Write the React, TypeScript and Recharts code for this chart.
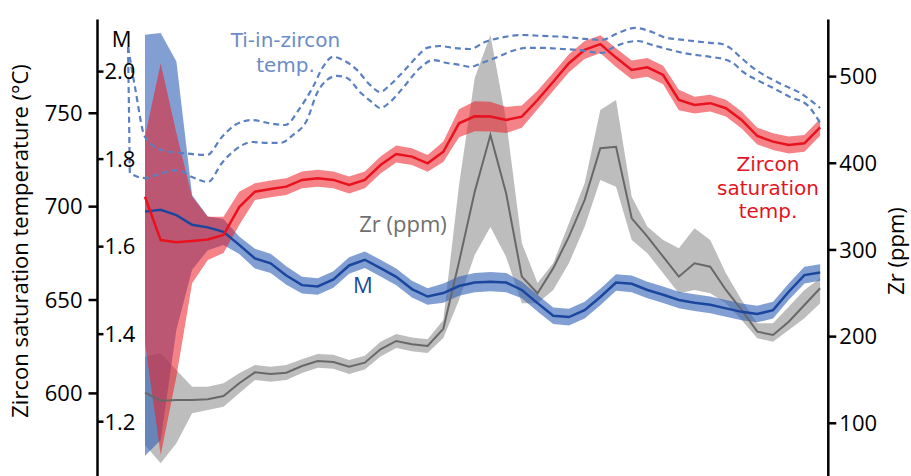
import React from 'react';
import { ComposedChart, Area, Line, XAxis, YAxis } from 'recharts';

const FONT = "'Open Sans', sans-serif";
const LABEL_FONT = "'DejaVu Sans', sans-serif";

// sample position along the profile
const step = [
  0, 1, 2, 3, 4, 5, 6, 7, 8, 9, 10, 11, 12, 13, 14, 15, 16, 17, 18, 19, 20, 21,
  22, 23, 24, 25, 26, 27, 28, 29, 30, 31, 32, 33, 34, 35, 36, 37, 38, 39, 40, 41, 42, 43,
];

// zircon saturation temperature (°C)
const zrcT = [
  705.3, 682.1, 680.9, 681.6, 682.4, 684.8, 699.8, 708.0, 709.5, 710.7, 714.3, 715.2, 714.3, 711.6,
  714.3, 722.3, 728.2, 726.8, 723.2, 729.4, 744.6, 748.4, 748.2, 746.4, 748.2, 757.1, 766.9, 776.8,
  783.9, 787.0, 779.8, 773.2, 774.6, 770.5, 757.1, 754.4, 755.4, 752.7, 746.4, 737.8, 734.8, 733.0,
  733.9, 742.5,
];
const zrcLo = [
  627, 567, 609, 659, 671.4, 675.2, 690.2, 703.5, 705.0, 706.2, 709.8, 710.7, 709.8, 707.1, 709.8,
  717.8, 723.7, 722.3, 718.7, 723.9, 737.1, 740.4, 740.2, 739.4, 742.2, 752.1, 762.1, 772.0, 779.1,
  782.2, 774.8, 768.2, 769.6, 765.5, 751.6, 749.9, 750.9, 748.2, 741.9, 733.3, 730.3, 728.5, 729.4,
  738.0,
];
const zrcHi = [
  737.5, 776.8, 739.4, 705.3, 694.6, 694.6, 708, 712.5, 714.0, 715.2, 718.8, 719.7, 718.8, 716.1,
  718.8, 726.8, 732.7, 731.3, 727.7, 734.9, 752.1, 756.4, 756.2, 753.4, 754.2, 762.1, 771.7, 781.6,
  788.7, 791.8, 784.8, 778.2, 779.6, 775.5, 762.6, 758.9, 759.9, 757.2, 750.9, 742.3, 739.3, 737.5,
  738.4, 747.0,
];

// M
const mVal = [
  1.68, 1.684, 1.672, 1.65, 1.644, 1.634, 1.604, 1.573, 1.562, 1.534, 1.512, 1.509, 1.525, 1.557,
  1.57, 1.551, 1.531, 1.503, 1.486, 1.494, 1.51, 1.518, 1.52, 1.518, 1.501, 1.471, 1.442, 1.439,
  1.455, 1.485, 1.518, 1.515, 1.501, 1.49, 1.478, 1.472, 1.467, 1.459, 1.451, 1.446, 1.455, 1.497,
  1.535, 1.541,
];
const mLo = [
  1.122, 1.158, 1.41, 1.547, 1.592, 1.604, 1.583, 1.55, 1.54, 1.513, 1.493, 1.49, 1.506, 1.538,
  1.551, 1.532, 1.512, 1.484, 1.467, 1.472, 1.488, 1.496, 1.498, 1.496, 1.482, 1.452, 1.423, 1.42,
  1.436, 1.466, 1.499, 1.496, 1.482, 1.471, 1.459, 1.453, 1.448, 1.44, 1.432, 1.427, 1.436, 1.478,
  1.516, 1.522,
];
const mHi = [
  2.084, 2.088, 2.023, 1.718, 1.669, 1.663, 1.623, 1.595, 1.584, 1.555, 1.531, 1.528, 1.544, 1.576,
  1.589, 1.57, 1.55, 1.522, 1.505, 1.516, 1.532, 1.54, 1.542, 1.54, 1.52, 1.49, 1.461, 1.458, 1.474,
  1.504, 1.537, 1.534, 1.52, 1.509, 1.497, 1.491, 1.486, 1.478, 1.47, 1.465, 1.474, 1.516, 1.554,
  1.56,
];

// Zr (ppm)
const zr = [
  135.3, 126.1, 126.9, 126.9, 127.7, 131.5, 146.2, 158.8, 156.9, 158.4, 166.1, 171.9, 170.7, 165.3,
  169.9, 185.4, 195.0, 191.2, 189.2, 209.0, 286.1, 367.2, 432.6, 365.4, 269.2, 250.0, 278.8, 315.3,
  357.6, 417.3, 419.1, 336.5, 315.3, 292.2, 269.2, 284.6, 280.7, 253.8, 230.7, 205.7, 201.9, 217.2,
  236.5, 255.8,
];
const zrLo = [
  75.0, 53.8, 76.9, 111.5, 115.3, 119.2, 134.6, 150.0, 148.0, 150.0, 158, 164, 163, 157, 162, 177,
  187, 183, 181, 198.3, 242.3, 294.2, 326.5, 292, 238.5, 238.5, 253.8, 284.6, 326.8, 380.7, 373,
  311.5, 296.2, 273.1, 250, 253.8, 250, 238.5, 219.2, 198.1, 194.2, 207.7, 221.2, 238.5,
];
const zrHi = [
  176.8, 180.8, 161.5, 142.2, 142.2, 146.2, 157.7, 167.3, 165.3, 167.3, 174, 180, 179, 173, 178, 194,
  203, 199, 197, 219.1, 374.9, 498.4, 548, 450, 308, 261.9, 284.6, 330.8, 377, 461.5, 473, 361.5,
  326.8, 311.5, 301.9, 325.0, 311.5, 273.1, 242.3, 215.4, 215.4, 234.5, 253.8, 267.3,
];

// Ti-in-zircon temperature envelope (°C), dashed curves
const tiUpperStep = [
  -1.08, -0.64, 0, 1.08, 2.36, 3.95, 4.9, 5.73, 6.82, 7.83, 8.92, 9.87, 10.7, 11.34, 11.97, 12.61,
  13.5, 14.33, 14.97, 15.61, 16.43, 17.32, 17.96, 18.79, 19.62, 20.7, 21.66, 22.93, 24.0, 25.29,
  26.75, 28.03, 29.11, 30.13, 31.21, 32.29, 33.0, 34.27, 35.99, 36.75, 37.26, 37.9, 38.73, 39.62,
  40.64, 41.72, 43.0,
];
const tiUpperT = [
  785.5, 764.1, 737.3, 730.3, 728.7, 727.7, 737.3, 743.7, 746.4, 744.8, 743.7, 752.8, 764.1, 774.8,
  780.2, 778.5, 773.2, 765.2, 761.4, 765.2, 772.1, 780.2, 785.0, 786.0, 785.0, 784.4, 788.2, 790.9,
  791.9, 791.4, 790.9, 789.8, 789.3, 793.0, 795.7, 793.5, 790.9, 789.3, 787.7, 787.1, 785.0, 780.2,
  774.3, 769.5, 765.2, 760.9, 752.8,
];
const tiLowerStep = [
  -1.08, -1.02, -0.96, 0, 1.08, 2.1, 2.99, 4.01, 4.9, 5.73, 6.82, 7.83, 8.6, 9.43, 10.32, 10.96,
  11.59, 12.23, 12.87, 13.69, 14.52, 14.97, 15.61, 16.43, 17.52, 18.34, 19.24, 20.06, 20.7, 21.46,
  22.48, 23.57, 24.39, 25.48, 26.56, 27.58, 28.47, 29.11, 29.75, 30.57, 31.4, 32.29, 33.0, 34.27,
  35.99, 36.82, 37.45, 38.09, 38.98, 40.0, 41.08, 42.17, 43.0,
];
const tiLowerT = [
  785.5, 751.8, 718.0, 715.3, 718.0, 719.6, 715.9, 713.2, 723.4, 730.3, 734.6, 734.1, 734.1, 738.4,
  746.4, 760.9, 767.8, 770.0, 768.9, 761.4, 755.5, 752.8, 756.0, 763.6, 774.3, 778.5, 776.9, 775.9,
  774.8, 776.9, 780.2, 783.9, 785.0, 785.0, 784.4, 783.9, 782.8, 782.3, 785.0, 787.7, 788.7, 786.6,
  785.0, 782.3, 780.2, 779.1, 776.9, 772.1, 767.8, 763.6, 758.7, 754.5, 744.8,
];

// axis ticks
const xTicks = [2.6, 12.8, 23.05, 33.3];
const tTicks = [600, 650, 700, 750];
const mTicks = [1.2, 1.4, 1.6, 1.8, 2.0];
const zrTicks = [100, 200, 300, 400, 500];

const data = step.map((s, i) => ({
  s,
  zrc: zrcT[i],
  zrcBand: [zrcLo[i], zrcHi[i]],
  m: mVal[i],
  mBand: [mLo[i], mHi[i]],
  zr: zr[i],
  zrBand: [zrLo[i], zrHi[i]],
}));
const tiUpper = tiUpperStep.map((s, i) => ({ s, t: tiUpperT[i] }));
const tiLower = tiLowerStep.map((s, i) => ({ s, t: tiLowerT[i] }));

const axisLine = { stroke: '#000', strokeWidth: 2.5 };
const tickText = { fill: '#000', fontSize: 22, fontFamily: FONT };

// multi-line annotation, centred on x, with a fixed line pitch
const blockLabel = (x: number, top: number, lineHeight: number, color: string): React.CSSProperties => ({
  position: 'absolute',
  left: x - 100,
  top,
  width: 200,
  textAlign: 'center',
  fontFamily: LABEL_FONT,
  fontSize: 20,
  lineHeight: `${lineHeight}px`,
  color,
  pointerEvents: 'none',
});

export default function App() {
  return (
    <div
      style={{
        position: 'fixed',
        left: 0,
        top: 0,
        width: 911,
        height: 476,
        overflow: 'hidden',
        background: '#fff',
      }}
    >
      <ComposedChart width={911} height={490} data={data} margin={{ top: 19.5, right: 0, bottom: 9, left: 0 }}>
        <XAxis
          dataKey="s"
          type="number"
          domain={[-3.025, 43.52]}
          allowDataOverflow
          ticks={xTicks}
          interval={0}
          mirror
          height={0}
          tick={false}
          tickSize={10}
          axisLine={axisLine}
          tickLine={{ stroke: '#000', strokeWidth: 2 }}
        />
        <XAxis
          xAxisId="top"
          orientation="top"
          type="number"
          domain={[-3.025, 43.52]}
          allowDataOverflow
          height={0}
          tick={false}
          tickLine={false}
          axisLine={{ stroke: '#000', strokeWidth: 2.5 }}
        />
        <YAxis
          yAxisId="t"
          orientation="left"
          width={97.5}
          type="number"
          domain={[553.1, 800.2]}
          allowDataOverflow
          ticks={tTicks}
          interval={0}
          tickSize={9}
          tickMargin={6}
          tick={tickText}
          axisLine={axisLine}
          tickLine={axisLine}
        />
        <YAxis
          yAxisId="m"
          orientation="left"
          mirror
          width={45}
          type="number"
          domain={[1.0645, 2.119]}
          allowDataOverflow
          ticks={mTicks}
          interval={0}
          tickSize={6}
          tickMargin={1}
          tick={tickText}
          tickFormatter={(v: number) => v.toFixed(1)}
          axisLine={false}
          tickLine={axisLine}
        />
        <YAxis
          yAxisId="zr"
          orientation="right"
          width={82.7}
          type="number"
          domain={[33.4, 565.9]}
          allowDataOverflow
          ticks={zrTicks}
          interval={0}
          tickSize={8}
          tickMargin={3}
          tick={tickText}
          axisLine={axisLine}
          tickLine={axisLine}
        />

        <Area yAxisId="zr" type="linear" dataKey="zrBand" fill="#bdbdbd" fillOpacity={1} stroke="none" isAnimationActive={false} />
        <Line yAxisId="zr" type="linear" dataKey="zr" stroke="#686868" strokeWidth={2} dot={false} activeDot={false} isAnimationActive={false} />

        <Area yAxisId="m" type="linear" dataKey="mBand" fill="#2f5fb6" fillOpacity={0.6} stroke="none" isAnimationActive={false} />
        <Line yAxisId="m" type="linear" dataKey="m" stroke="#1a469e" strokeWidth={2.5} dot={false} activeDot={false} isAnimationActive={false} />

        <Area yAxisId="t" type="linear" dataKey="zrcBand" fill="#ed1c24" fillOpacity={0.55} stroke="none" isAnimationActive={false} />
        <Line yAxisId="t" type="linear" dataKey="zrc" stroke="#e8121e" strokeWidth={2.5} dot={false} activeDot={false} isAnimationActive={false} />

        <Line yAxisId="t" data={tiUpper} type="monotone" dataKey="t" stroke="#5b80c2" strokeWidth={2.2} strokeDasharray="6 4" dot={false} activeDot={false} isAnimationActive={false} />
        <Line yAxisId="t" data={tiLower} type="monotone" dataKey="t" stroke="#5b80c2" strokeWidth={2.2} strokeDasharray="6 4" dot={false} activeDot={false} isAnimationActive={false} />
      </ComposedChart>

      <svg
        width={911}
        height={476}
        style={{ position: 'absolute', left: 0, top: 0, pointerEvents: 'none' }}
        fontFamily={FONT}
        fontSize={22}
      >
        <text transform="translate(28,241) rotate(-90)" textAnchor="middle" fill="#000">
          Zircon saturation temperature (°C)
        </text>
        <text transform="translate(904,251) rotate(-90)" textAnchor="middle" fill="#000">
          Zr (ppm)
        </text>
        <text x={121.7} y={46.7} textAnchor="middle" fill="#000">M</text>
        <text x={403} y={231.7} textAnchor="middle" fill="#6e6e6e">Zr (ppm)</text>
        <text x={363} y={293.3} textAnchor="middle" fill="#1b4aa0">M</text>
      </svg>

      <div style={blockLabel(285.5, 27.6, 25, '#6b8cc8')}>
        Ti-in-zircon
        <br />
        temp.
      </div>
      <div style={blockLabel(768, 153, 23.6, '#e3141f')}>
        Zircon
        <br />
        saturation
        <br />
        temp.
      </div>
    </div>
  );
}
